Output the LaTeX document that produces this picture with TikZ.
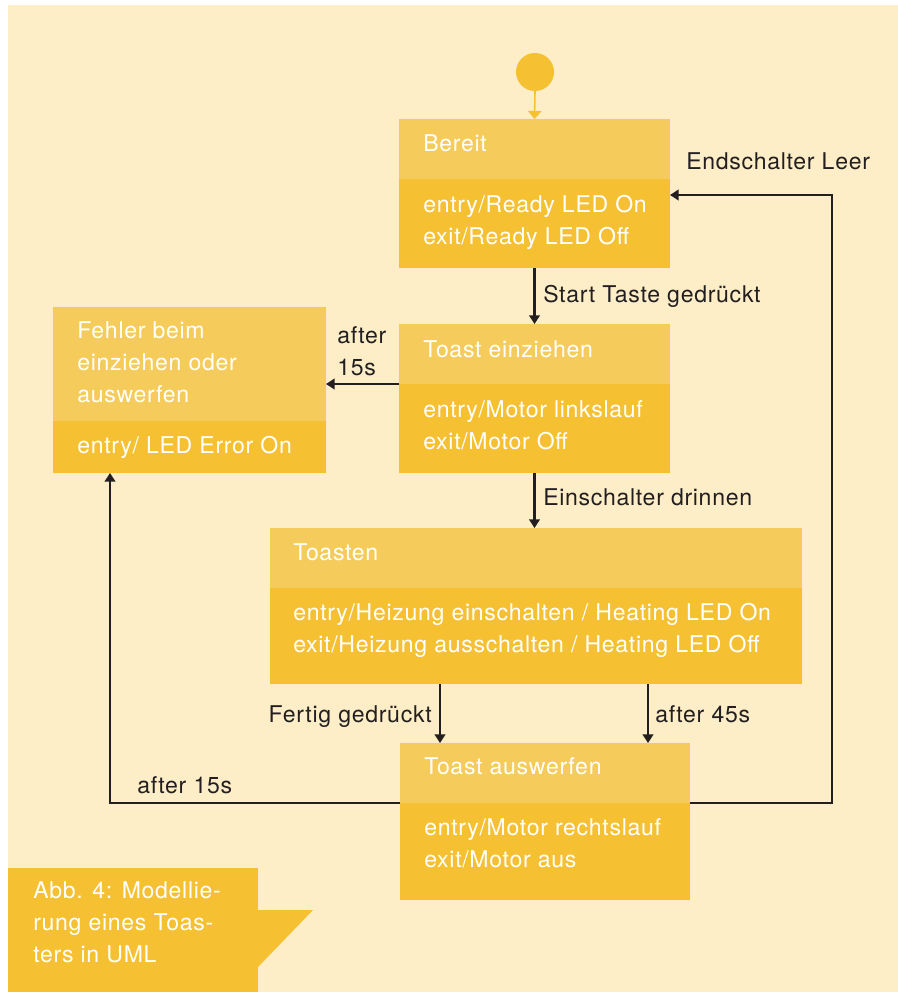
\documentclass[tikz,border=0pt]{standalone}
\usepackage{fontspec}
\setmainfont{TeX Gyre Heros}[LetterSpace=3.0]
\usetikzlibrary{arrows.meta,calc}
\definecolor{bg}{HTML}{FDEEC8}
\definecolor{hdr}{HTML}{F5CC5B}
\definecolor{bdy}{HTML}{F6C033}
\definecolor{ink}{HTML}{231F20}
\begin{document}
\begin{tikzpicture}[x=0.75pt,y=-0.75pt,
  box/.style={inner sep=0pt, outer sep=0pt, anchor=north west},
  wt/.style={anchor=base west, inner sep=0pt, text=white, font=\fontsize{17.3}{24}\selectfont},
  lbl/.style={anchor=base west, inner sep=0pt, text=ink, font=\fontsize{17.3}{24}\selectfont},
  arr/.style={draw=ink, line width=1.6pt, -{Triangle[length=6.5pt,width=8pt]}},
  yarr/.style={draw=bdy, line width=1.2pt, -{Triangle[length=6pt,width=10pt]}}]
\useasboundingbox (0,0) rectangle (898,992);
\fill[white] (0,0) rectangle (898,992);
\fill[bg] (8,5) rectangle (898,992);

% initial state
\node[circle, fill=bdy, minimum size={38*0.75pt}, inner sep=0pt, outer sep=0pt] (init) at (535,72) {};

% boxes
\node[box, fill=hdr, minimum width={271*0.75pt}, minimum height={60*0.75pt}] (bereitH) at (399,119) {};
\node[box, fill=bdy, minimum width={271*0.75pt}, minimum height={89*0.75pt}] (bereitB) at (399,179) {};
\node[box, fill=hdr, minimum width={271*0.75pt}, minimum height={60*0.75pt}] (einzH) at (399,324) {};
\node[box, fill=bdy, minimum width={271*0.75pt}, minimum height={89*0.75pt}] (einzB) at (399,384) {};
\node[box, fill=hdr, minimum width={273*0.75pt}, minimum height={114*0.75pt}] (fehlerH) at (53,307) {};
\node[box, fill=bdy, minimum width={273*0.75pt}, minimum height={52*0.75pt}] (fehlerB) at (53,421) {};
\node[box, fill=hdr, minimum width={532*0.75pt}, minimum height={60*0.75pt}] (toastenH) at (270,528) {};
\node[box, fill=bdy, minimum width={532*0.75pt}, minimum height={96*0.75pt}] (toastenB) at (270,588) {};
\node[box, fill=hdr, minimum width={290*0.75pt}, minimum height={60*0.75pt}] (auswH) at (400,743) {};
\node[box, fill=bdy, minimum width={290*0.75pt}, minimum height={97*0.75pt}] (auswB) at (400,803) {};
\node[box, fill=bdy, minimum width={250*0.75pt}, minimum height={124*0.75pt}] (caption) at (8,868) {};
\fill[bdy] (caption.east |- 0,910) -- (313,910) -- (caption.east |- 0,967) -- cycle;

% box texts
\node[wt] (t1) at (423,151) {Bereit};
\node[wt] (t2) at (423,212) {entry/Ready LED On};
\node[wt] (t3) at (423,244) {exit/Ready LED Off};
\node[wt] (t4) at (423,357) {Toast einziehen};
\node[wt] (t5) at (423,417) {entry/Motor linkslauf};
\node[wt] (t6) at (423,449) {exit/Motor Off};
\node[wt] (t7) at (77,338) {Fehler beim};
\node[wt] (t8) at (77,370) {einziehen oder};
\node[wt] (t9) at (77,402) {auswerfen};
\node[wt] (t10) at (77,453) {entry/ LED Error On};
\node[wt] (t11) at (293,560) {Toasten};
\node[wt] (t12) at (293,620) {entry/Heizung einschalten / Heating LED On};
\node[wt] (t13) at (293,652) {exit/Heizung ausschalten / Heating LED Off};
\node[wt] (t14) at (424,774) {Toast auswerfen};
\node[wt] (t15) at (424,835) {entry/Motor rechtslauf};
\node[wt] (t16) at (424,867) {exit/Motor aus};
\node[wt] (c1) at (33,898) {Abb. 4: Modellie-};
\node[wt] (c2) at (33,930) {rung eines Toas-};
\node[wt] (c3) at (33,962) {ters in UML};

% connectors
\draw[yarr] (init.south) -- (bereitH.north);
\draw[arr] (bereitB.south) -- (einzH.north);
\draw[arr] (einzB.north west) -- (fehlerH.east |- einzB.north west);
\draw[arr] (einzB.south) -- (toastenH.north -| einzB.south);
\draw[arr] ($(toastenB.south west)+(170,0)$) -- ($(auswH.north west)+(40,0)$);
\draw[arr] ($(toastenB.south west)+(378,0)$) -- ($(auswH.north west)+(248,0)$);
\draw[arr] (auswB.north west) -| ($(fehlerB.south west)+(57,0)$);
\draw[arr] (auswB.north east) -- ++(142,0) |- ($(bereitB.north east)+(0,16)$);

% labels
\node[lbl] (l1) at (543,302) {Start Taste gedrückt};
\node[lbl] (l2) at (337,343) {after};
\node[lbl] (l3) at (337,375) {15s};
\node[lbl] (l4) at (543,505) {Einschalter drinnen};
\node[lbl, anchor=base east] (l5) at (432,722) {Fertig gedrückt};
\node[lbl] (l6) at (655,722) {after 45s};
\node[lbl] (l7) at (137,793) {after 15s};
\node[lbl] (l8) at (686,169) {Endschalter Leer};
\end{tikzpicture}
\end{document}
